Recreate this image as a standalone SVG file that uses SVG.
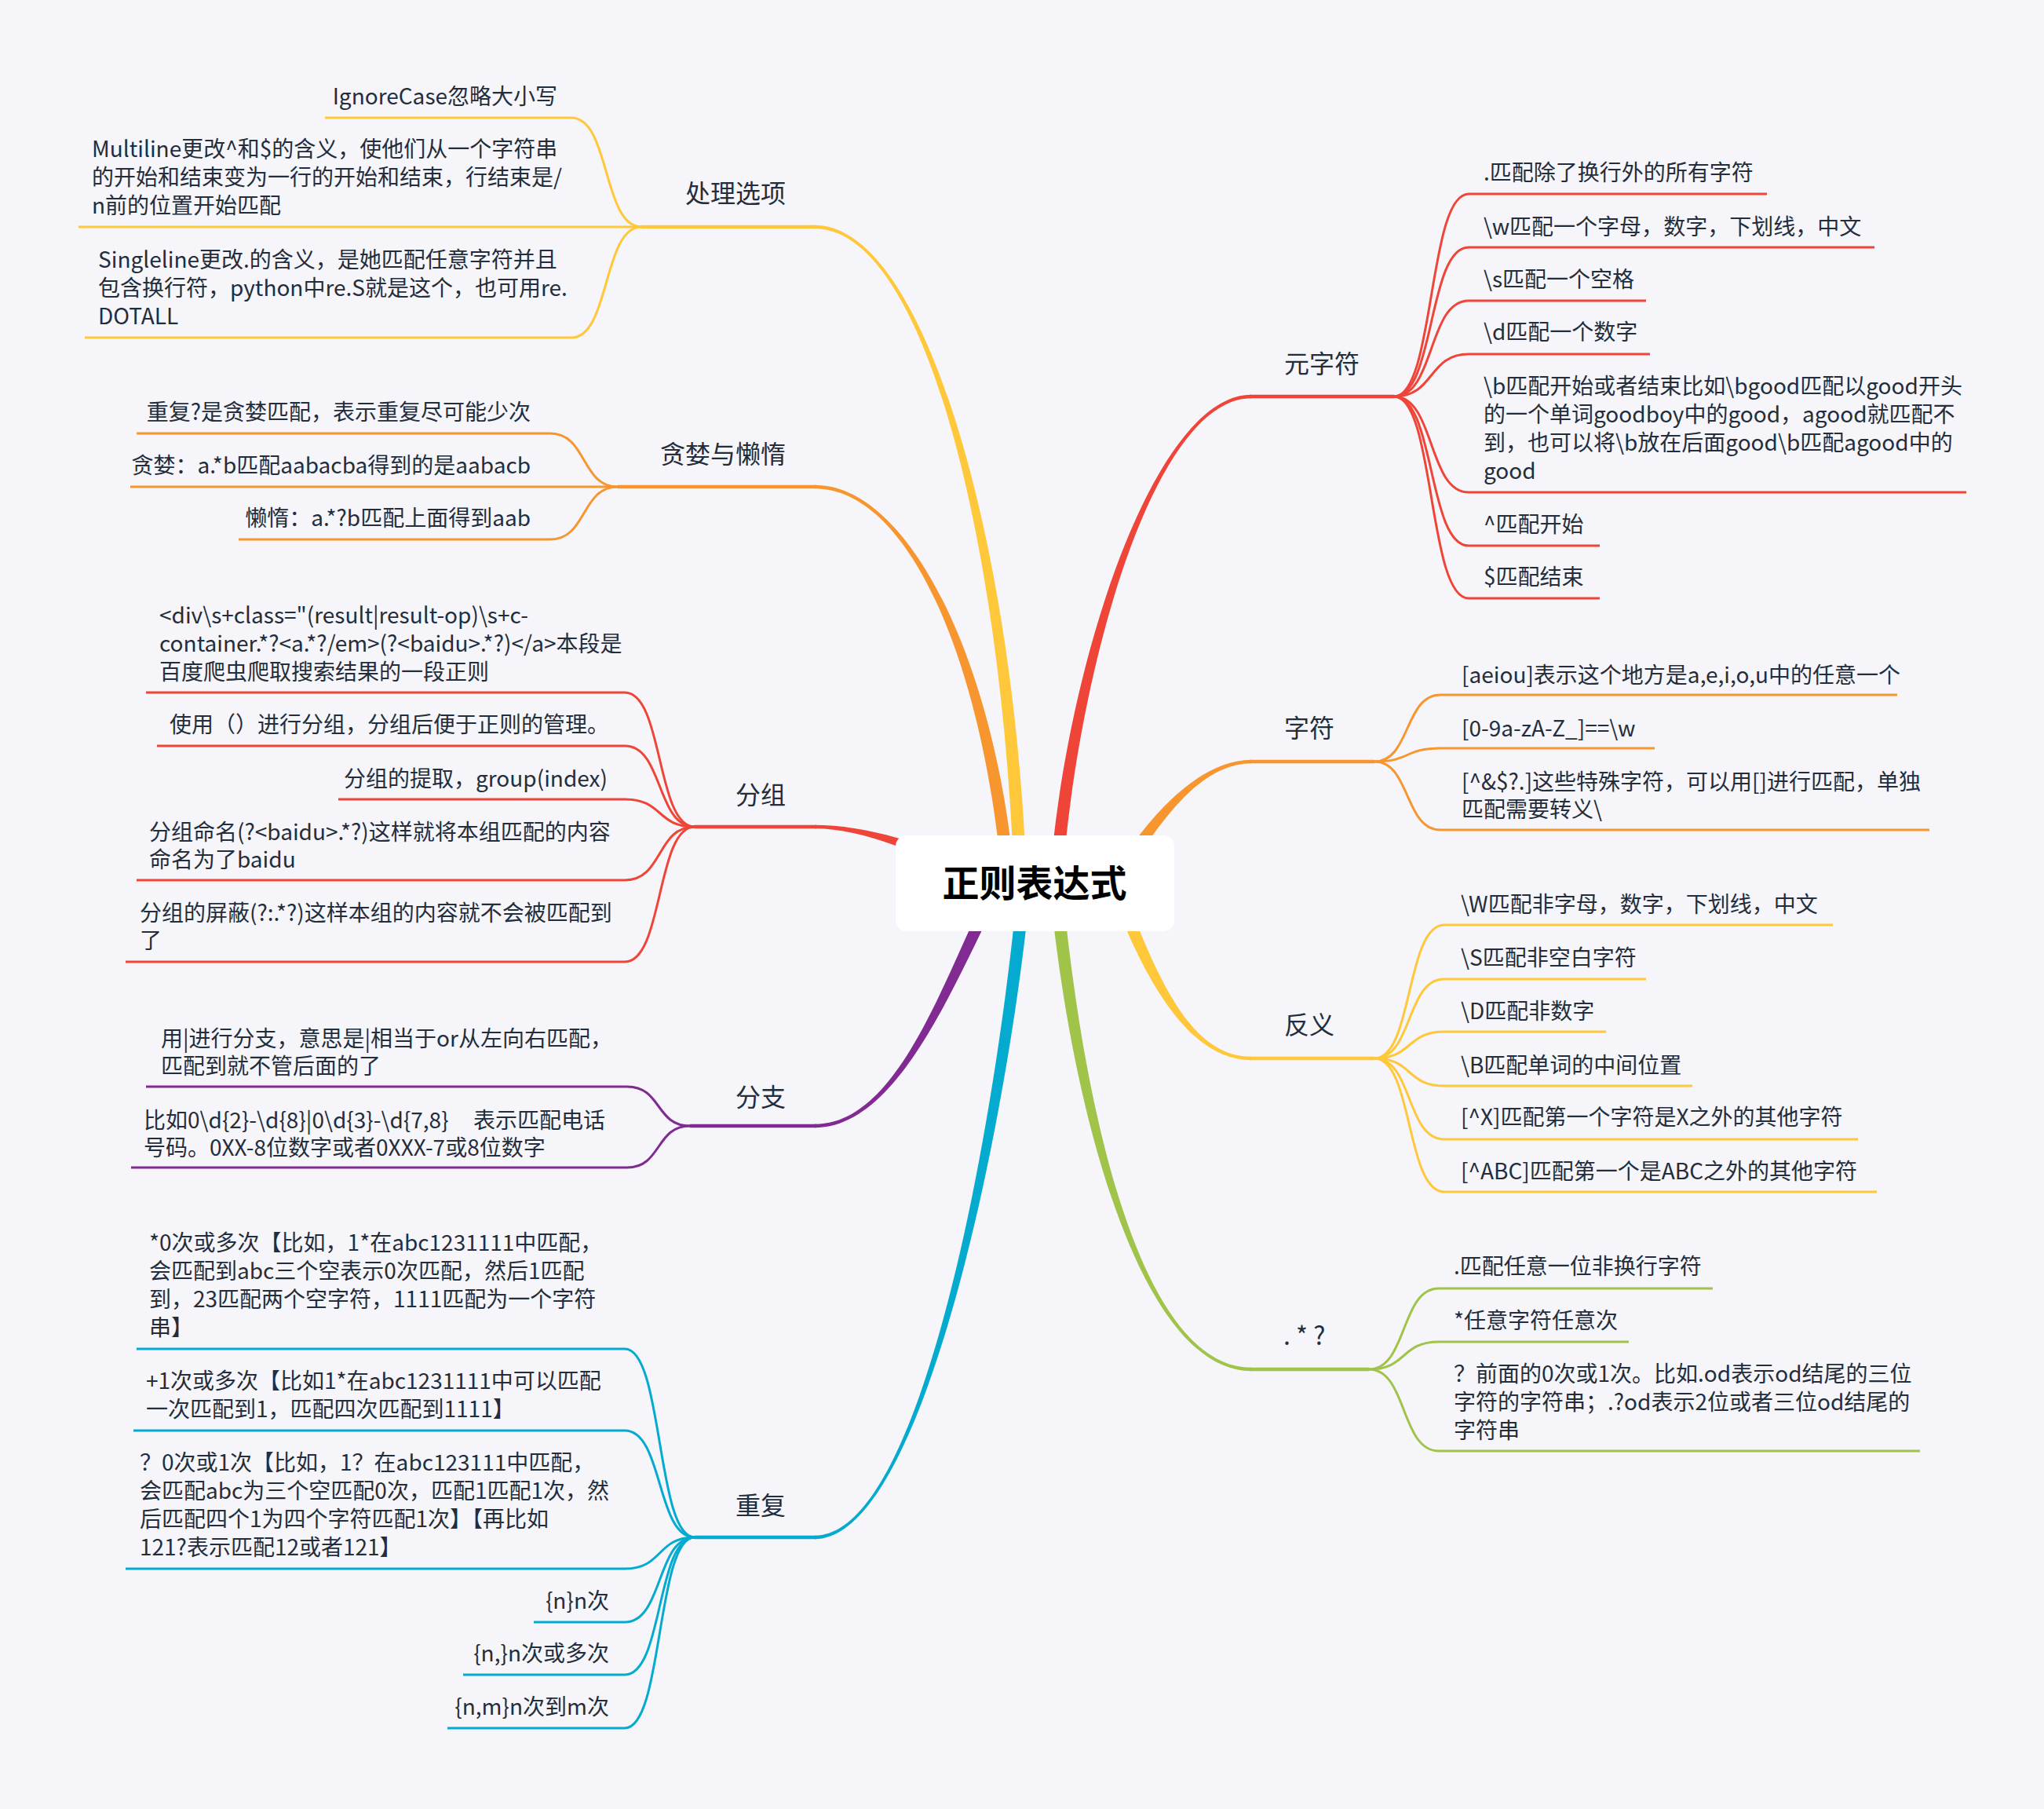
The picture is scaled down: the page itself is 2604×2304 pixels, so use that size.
<svg xmlns="http://www.w3.org/2000/svg" width="2604" height="2304" viewBox="0 0 2604 2304">
<style>
.t{font-family:"Noto Sans CJK SC","Noto Sans",sans-serif;font-size:28px;fill:#232d3b}
.e{text-anchor:end}
.lbl{font-size:32px}
.root{font-size:47px;font-weight:700;fill:#000;text-anchor:middle}
.c{fill:none;stroke-width:3}
.b{fill:none;stroke-width:4.5}
.sr{stroke:#EF4539}.so{stroke:#F7962F}.sy{stroke:#FFC83A}.sp{stroke:#802A92}.sb{stroke:#05ABCF}.sg{stroke:#A0C349}
.fr{fill:#EF4539}.fo{fill:#F7962F}.fy{fill:#FFC83A}.fp{fill:#802A92}.fb{fill:#05ABCF}.fg{fill:#A0C349}
</style>
<rect width="2604" height="2304" fill="#F5F5FA"/>
<g id="connectors">
  <!-- main tapered branches -->
  <path class="fy" d="M1038 291.25 C1180 291.25 1277 700.3 1292 1125.3 L1308 1124.7 C1293 699.7 1180 286.75 1038 286.75Z"/>
  <path class="fo" d="M1038 622.25 C1160 622.25 1254 850.7 1277 1125.7 L1293 1124.3 C1270 849.3 1160 617.75 1038 617.75Z"/>
  <path class="fr" d="M1038 1055.25 C1100 1055.25 1176.1 1087 1256.1 1132 L1263.9 1118 C1183.9 1073 1100 1050.75 1038 1050.75Z"/>
  <path class="fp" d="M1038 1436.25 C1150 1436.25 1222 1233.8 1282 1123.8 L1268 1116.2 C1208 1226.2 1150 1431.75 1038 1431.75Z"/>
  <path class="fb" d="M1038 1960.25 C1180 1960.25 1288 1400.7 1313 1125.7 L1297 1124.3 C1272 1399.3 1180 1955.75 1038 1955.75Z"/>
  <path class="fr" d="M1594 502.75 C1470 502.75 1357 849.4 1337 1124.4 L1353 1125.6 C1373 850.6 1470 507.25 1594 507.25Z"/>
  <path class="fo" d="M1594 967.75 C1530 967.75 1463.1 1035.9 1413.1 1120.9 L1426.9 1129.1 C1476.9 1044.1 1530 972.25 1594 972.25Z"/>
  <path class="fy" d="M1594 1345.75 C1520 1345.75 1477.5 1257.2 1427.5 1122.2 L1412.5 1127.8 C1462.5 1262.8 1520 1350.25 1594 1350.25Z"/>
  <path class="fg" d="M1594 1741.75 C1450 1741.75 1378 1399.3 1353 1124.3 L1337 1125.7 C1362 1400.7 1450 1746.25 1594 1746.25Z"/>
  <!-- branch underlines -->
  <path class="b sy" d="M817 289 H1040"/>
  <path class="b so" d="M787 620 H1040"/>
  <path class="b sr" d="M885 1053 H1040"/>
  <path class="b sp" d="M879 1434 H1040"/>
  <path class="b sb" d="M885 1958 H1040"/>
  <path class="b sr" d="M1592 505 H1776"/>
  <path class="b so" d="M1592 970 H1751"/>
  <path class="b sy" d="M1592 1348 H1751"/>
  <path class="b sg" d="M1592 1744 H1744"/>
  <!-- 处理选项 children -->
  <path class="c sy" d="M414 150 H728 C777 150 768 289 817 289"/>
  <path class="c sy" d="M100 289 H817"/>
  <path class="c sy" d="M108 430 H728 C777 430 768 289 817 289"/>
  <!-- 贪婪与懒惰 children -->
  <path class="c so" d="M174 552 H701 C748 552 740 620 787 620"/>
  <path class="c so" d="M166 620 H787"/>
  <path class="c so" d="M304 687 H701 C748 687 740 620 787 620"/>
  <!-- 分组 children -->
  <path class="c sr" d="M186 882 H796 C845 882 836 1053 885 1053"/>
  <path class="c sr" d="M200 950 H796 C845 950 836 1053 885 1053"/>
  <path class="c sr" d="M431 1018 H796 C845 1018 836 1053 885 1053"/>
  <path class="c sr" d="M174 1121 H796 C845 1121 836 1053 885 1053"/>
  <path class="c sr" d="M160 1225 H796 C845 1225 836 1053 885 1053"/>
  <!-- 分支 children -->
  <path class="c sp" d="M186 1384 H799 C843 1384 835 1434 879 1434"/>
  <path class="c sp" d="M167 1487 H799 C843 1487 835 1434 879 1434"/>
  <!-- 重复 children -->
  <path class="c sb" d="M174 1718 H796 C845 1718 836 1958 885 1958"/>
  <path class="c sb" d="M170 1822 H796 C845 1822 836 1958 885 1958"/>
  <path class="c sb" d="M160 1998 H796 C845 1998 836 1958 885 1958"/>
  <path class="c sb" d="M680 2066 H796 C845 2066 836 1958 885 1958"/>
  <path class="c sb" d="M590 2133 H796 C845 2133 836 1958 885 1958"/>
  <path class="c sb" d="M570 2201 H796 C845 2201 836 1958 885 1958"/>
  <!-- 元字符 children -->
  <path class="c sr" d="M2251 247 H1871 C1819 247 1828 505 1776 505"/>
  <path class="c sr" d="M2388 315 H1871 C1819 315 1828 505 1776 505"/>
  <path class="c sr" d="M2097 383 H1871 C1819 383 1828 505 1776 505"/>
  <path class="c sr" d="M2102 451 H1871 C1819 451 1828 505 1776 505"/>
  <path class="c sr" d="M2505 627 H1871 C1819 627 1828 505 1776 505"/>
  <path class="c sr" d="M2038 695 H1871 C1819 695 1828 505 1776 505"/>
  <path class="c sr" d="M2038 762 H1871 C1819 762 1828 505 1776 505"/>
  <!-- 字符 children -->
  <path class="c so" d="M2417 885 H1835 C1789 885 1797 970 1751 970"/>
  <path class="c so" d="M2108 953 H1835 C1789 953 1797 970 1751 970"/>
  <path class="c so" d="M2458 1057 H1835 C1789 1057 1797 970 1751 970"/>
  <!-- 反义 children -->
  <path class="c sy" d="M2335 1178 H1840 C1791 1178 1800 1348 1751 1348"/>
  <path class="c sy" d="M2097 1247 H1840 C1791 1247 1800 1348 1751 1348"/>
  <path class="c sy" d="M2046 1314 H1840 C1791 1314 1800 1348 1751 1348"/>
  <path class="c sy" d="M2156 1383 H1840 C1791 1383 1800 1348 1751 1348"/>
  <path class="c sy" d="M2367 1451 H1840 C1791 1451 1800 1348 1751 1348"/>
  <path class="c sy" d="M2391 1518 H1840 C1791 1518 1800 1348 1751 1348"/>
  <!-- .*? children -->
  <path class="c sg" d="M2182 1641 H1833 C1784 1641 1793 1744 1744 1744"/>
  <path class="c sg" d="M2075 1709 H1833 C1784 1709 1793 1744 1744 1744"/>
  <path class="c sg" d="M2446 1848 H1833 C1784 1848 1793 1744 1744 1744"/>
</g>
<g id="n-root">
  <rect x="1141" y="1064" width="355" height="122" rx="14" fill="#fff"/>
  <text class="t root" x="1318" y="1142">正则表达式</text>
</g>
<g id="n-options"><text class="t lbl e" x="1001" y="258">处理选项</text></g>
<g id="n-options-1"><text class="t e" x="710" y="133">IgnoreCase忽略大小写</text></g>
<g id="n-options-2"><text class="t" x="117" y="200"><tspan x="117">Multiline更改^和$的含义，使他们从一个字符串</tspan><tspan x="117" y="236">的开始和结束变为一行的开始和结束，行结束是/</tspan><tspan x="117" y="272">n前的位置开始匹配</tspan></text></g>
<g id="n-options-3"><text class="t" x="125" y="341"><tspan x="125">Singleline更改.的含义，是她匹配任意字符并且</tspan><tspan x="125" y="377">包含换行符，python中re.S就是这个，也可用re.</tspan><tspan x="125" y="413">DOTALL</tspan></text></g>
<g id="n-greedy"><text class="t lbl e" x="1001" y="590">贪婪与懒惰</text></g>
<g id="n-greedy-1"><text class="t e" x="676" y="535">重复?是贪婪匹配，表示重复尽可能少次</text></g>
<g id="n-greedy-2"><text class="t e" x="676" y="603">贪婪：a.*b匹配aabacba得到的是aabacb</text></g>
<g id="n-greedy-3"><text class="t e" x="676" y="670">懒惰：a.*?b匹配上面得到aab</text></g>
<g id="n-group"><text class="t lbl e" x="1001" y="1024">分组</text></g>
<g id="n-group-1"><text class="t" x="203" y="794"><tspan x="203">&lt;div\s+class="(result|result-op)\s+c-</tspan><tspan x="203" y="830">container.*?&lt;a.*?/em&gt;(?&lt;baidu&gt;.*?)&lt;/a&gt;本段是</tspan><tspan x="203" y="866">百度爬虫爬取搜索结果的一段正则</tspan></text></g>
<g id="n-group-2"><text class="t" x="216" y="933">使用（）进行分组，分组后便于正则的管理。</text></g>
<g id="n-group-3"><text class="t e" x="774" y="1002">分组的提取，group(index)</text></g>
<g id="n-group-4"><text class="t" x="190" y="1070"><tspan x="190">分组命名(?&lt;baidu&gt;.*?)这样就将本组匹配的内容</tspan><tspan x="190" y="1105">命名为了baidu</tspan></text></g>
<g id="n-group-5"><text class="t" x="178" y="1173"><tspan x="178">分组的屏蔽(?:.*?)这样本组的内容就不会被匹配到</tspan><tspan x="178" y="1208">了</tspan></text></g>
<g id="n-branch"><text class="t lbl e" x="1001" y="1409">分支</text></g>
<g id="n-branch-1"><text class="t" x="205" y="1333"><tspan x="205">用|进行分支，意思是|相当于or从左向右匹配，</tspan><tspan x="205" y="1368">匹配到就不管后面的了</tspan></text></g>
<g id="n-branch-2"><text class="t" x="183" y="1437"><tspan x="183">比如0\d{2}-\d{8}|0\d{3}-\d{7,8}&#160;&#160;&#160;&#160;&#160;表示匹配电话</tspan><tspan x="183" y="1472">号码。0XX-8位数字或者0XXX-7或8位数字</tspan></text></g>
<g id="n-repeat"><text class="t lbl e" x="1001" y="1929">重复</text></g>
<g id="n-repeat-1"><text class="t" x="190" y="1593"><tspan x="190">*0次或多次【比如，1*在abc1231111中匹配，</tspan><tspan x="190" y="1629">会匹配到abc三个空表示0次匹配，然后1匹配</tspan><tspan x="190" y="1665">到，23匹配两个空字符，1111匹配为一个字符</tspan><tspan x="190" y="1701">串】</tspan></text></g>
<g id="n-repeat-2"><text class="t" x="186" y="1769"><tspan x="186">+1次或多次【比如1*在abc1231111中可以匹配</tspan><tspan x="186" y="1805">一次匹配到1，匹配四次匹配到1111】</tspan></text></g>
<g id="n-repeat-3"><text class="t" x="178" y="1873"><tspan x="178">？0次或1次【比如，1？在abc123111中匹配，</tspan><tspan x="178" y="1909">会匹配abc为三个空匹配0次，匹配1匹配1次，然</tspan><tspan x="178" y="1945">后匹配四个1为四个字符匹配1次】【再比如</tspan><tspan x="178" y="1981">121?表示匹配12或者121】</tspan></text></g>
<g id="n-repeat-4"><text class="t e" x="776" y="2049">{n}n次</text></g>
<g id="n-repeat-5"><text class="t e" x="776" y="2116">{n,}n次或多次</text></g>
<g id="n-repeat-6"><text class="t e" x="776" y="2184">{n,m}n次到m次</text></g>
<g id="n-meta"><text class="t lbl" x="1636" y="475">元字符</text></g>
<g id="n-meta-1"><text class="t" x="1890" y="230">.匹配除了换行外的所有字符</text></g>
<g id="n-meta-2"><text class="t" x="1890" y="299">\w匹配一个字母，数字，下划线，中文</text></g>
<g id="n-meta-3"><text class="t" x="1890" y="366">\s匹配一个空格</text></g>
<g id="n-meta-4"><text class="t" x="1890" y="433">\d匹配一个数字</text></g>
<g id="n-meta-5"><text class="t" x="1890" y="502"><tspan x="1890">\b匹配开始或者结束比如\bgood匹配以good开头</tspan><tspan x="1890" y="538">的一个单词goodboy中的good，agood就匹配不</tspan><tspan x="1890" y="574">到，也可以将\b放在后面good\b匹配agood中的</tspan><tspan x="1890" y="610">good</tspan></text></g>
<g id="n-meta-6"><text class="t" x="1890" y="678">^匹配开始</text></g>
<g id="n-meta-7"><text class="t" x="1890" y="745">$匹配结束</text></g>
<g id="n-char"><text class="t lbl" x="1636" y="939">字符</text></g>
<g id="n-char-1"><text class="t" x="1862" y="870">[aeiou]表示这个地方是a,e,i,o,u中的任意一个</text></g>
<g id="n-char-2"><text class="t" x="1862" y="938">[0-9a-zA-Z_]==\w</text></g>
<g id="n-char-3"><text class="t" x="1862" y="1006"><tspan x="1862">[^&amp;$?.]这些特殊字符，可以用[]进行匹配，单独</tspan><tspan x="1862" y="1041">匹配需要转义\</tspan></text></g>
<g id="n-neg"><text class="t lbl" x="1636" y="1317">反义</text></g>
<g id="n-neg-1"><text class="t" x="1861" y="1162">\W匹配非字母，数字，下划线，中文</text></g>
<g id="n-neg-2"><text class="t" x="1861" y="1230">\S匹配非空白字符</text></g>
<g id="n-neg-3"><text class="t" x="1861" y="1298">\D匹配非数字</text></g>
<g id="n-neg-4"><text class="t" x="1861" y="1367">\B匹配单词的中间位置</text></g>
<g id="n-neg-5"><text class="t" x="1861" y="1433">[^X]匹配第一个字符是X之外的其他字符</text></g>
<g id="n-neg-6"><text class="t" x="1861" y="1502">[^ABC]匹配第一个是ABC之外的其他字符</text></g>
<g id="n-any"><text class="t lbl" x="1635" y="1713" xml:space="preserve">. * ?</text></g>
<g id="n-any-1"><text class="t" x="1852" y="1623">.匹配任意一位非换行字符</text></g>
<g id="n-any-2"><text class="t" x="1852" y="1692">*任意字符任意次</text></g>
<g id="n-any-3"><text class="t" x="1852" y="1760"><tspan x="1852">？前面的0次或1次。比如.od表示od结尾的三位</tspan><tspan x="1852" y="1796">字符的字符串；.?od表示2位或者三位od结尾的</tspan><tspan x="1852" y="1832">字符串</tspan></text></g>
</svg>
